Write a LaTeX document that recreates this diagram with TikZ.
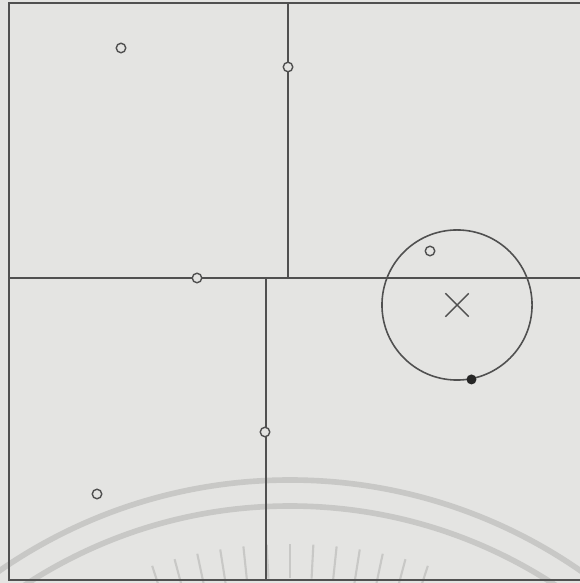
\documentclass[tikz,border=0pt]{standalone}
\usetikzlibrary{positioning,shapes.misc}
\definecolor{paper}{HTML}{E4E4E2}
\definecolor{ink}{HTML}{505050}
\definecolor{seal}{HTML}{C8C8C6}

\begin{document}
\begin{tikzpicture}[
  x=0.01cm,y=-0.01cm,
  wall/.style={draw=ink,line width=0.45pt},
  hole/.style={circle,draw=ink,fill=paper,line width=0.4pt,
    inner sep=0pt,minimum size=0.095cm},
  plug/.style={circle,fill=black!85,inner sep=0pt,minimum size=0.1cm},
  zone/.style={circle,draw=ink,line width=0.45pt,inner sep=0pt,
    minimum size=1.5cm},
  xmark/.style={cross out,draw=ink,line width=0.4pt,inner sep=0pt,
    minimum size=0.22cm},
  stamp/.style={draw=seal,line width=1.6pt},
  ray/.style={draw=seal,line width=0.6pt}
]
\fill[paper] (0,0) rectangle (580,583);
\useasboundingbox (0,0) rectangle (580,583);
\clip (0,0) rectangle (580,583);

% faint seal at the bottom
\coordinate (sealc) at (290,990);
\draw[stamp] (sealc) circle[radius=510];
\draw[stamp] (sealc) circle[radius=484];
\foreach \a in {252,255,...,288}
  \draw[ray] (sealc) ++(\a:412) -- ++(\a:34);

% walls
\coordinate (nw) at (9,3);
\coordinate (ne) at (580,3);
\coordinate (sw) at (9,580);
\coordinate (se) at (580,580);
\coordinate (wmid) at (9,278);
\coordinate (emid) at (580,278);
\coordinate (top) at (288,3);
\coordinate (tjoin) at (288,278);
\coordinate (bjoin) at (266,278);
\coordinate (bot) at (266,580);
\draw[wall] (ne) -- (nw) -- (sw) -- (se);
\draw[wall] (wmid) -- (emid);
\draw[wall] (top) -- (tjoin);
\draw[wall] (bjoin) -- (bot);

% open points
\node[hole] (h1) at (121,48) {};
\node[hole] (h2) at (288,67) {};
\node[hole] (h3) at (197,278) {};
\node[hole] (h4) at (265,432) {};
\node[hole] (h5) at (97,494) {};

% circle with centre mark
\node[zone] (area) at (457,305) {};
\node[xmark] (centre) at (area.center) {};
\node[hole] (h6) at (430,251) {};
\node[plug] (p1) at (area.-79) {};
\end{tikzpicture}
\end{document}
